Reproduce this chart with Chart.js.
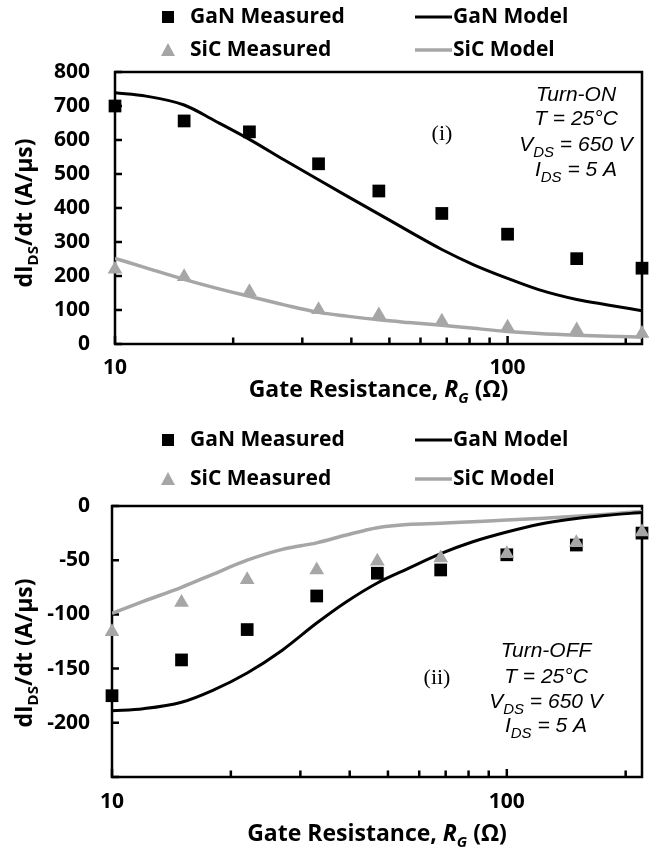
<!DOCTYPE html>
<html>
<head>
<meta charset="utf-8">
<script src="https://cdn.jsdelivr.net/npm/chart.js@4.4.1/dist/chart.umd.min.js"></script>
<style>
  html, body { margin: 0; padding: 0; background: #fff; }
  #wrap { position: relative; width: 651px; height: 852px; }
  canvas { position: absolute; left: 0; }
  #onChart { top: 0; }
  #offChart { top: 412px; }
</style>
</head>
<body>
<div id="wrap">
  <canvas id="onChart" width="651" height="412"></canvas>
  <canvas id="offChart" width="651" height="440"></canvas>
</div>
<script>
// gate resistances (ohm)
const R_MEAS = [10, 15, 22, 33, 47, 68, 100, 150, 220];
const R_MODEL = [10, 12, 15, 18, 22, 27, 33, 39, 47, 56, 68, 82, 100, 120, 150, 180, 220];

// (i) turn-on dI/dt (A/us)
const ON_GAN_MEAS = [700, 656, 624, 530, 450, 384, 323, 251, 223];
const ON_SIC_MEAS = [220, 198, 154, 101, 85, 67, 49, 41, 31];
const ON_GAN_MODEL = [739, 729, 703, 656, 602, 541, 483, 435, 382, 332, 278, 233, 193, 160, 131, 115, 98];
const ON_SIC_MODEL = [252, 224, 190, 165, 140, 115, 93, 82, 71, 63, 55, 46, 37, 31, 26, 23, 20];

// (ii) turn-off dI/dt (A/us)
const OFF_GAN_MEAS = [-175, -142, -114, -83, -62, -59, -45, -36, -25];
const OFF_SIC_MEAS = [-116, -89, -68, -59, -51, -48, -44, -34, -24];
const OFF_GAN_MODEL = [-189, -187, -181, -170, -154, -133, -108, -89, -71, -58, -44, -33, -24, -17, -11.5, -8.5, -6];
const OFF_SIC_MODEL = [-99, -88, -75, -63, -50, -40, -34, -27, -20, -17, -16, -14.5, -13, -11.5, -9.5, -7.5, -5];

// axes
const X_TICKS = [10, 20, 30, 40, 50, 60, 70, 80, 90, 100, 200];
const X_TICK_LABELS = [10, 100];
const ON_Y_TICKS = [0, 100, 200, 300, 400, 500, 600, 700, 800];
const OFF_Y_TICKS = [-250, -200, -150, -100, -50, 0];
const OFF_Y_TICK_LABELS = [0, -50, -100, -150, -200];

const GREY = '#a6a6a6';
const SANS = '"Open Sans", sans-serif';
const F_LEG = 'bold 21px ' + SANS;
const F_TITLE = 'bold 23px ' + SANS;
const F_TITLE_I = 'italic bold 23px ' + SANS;
const F_TITLE_SUB = 'bold 15px ' + SANS;
const F_TITLE_SUB_I = 'italic bold 15px ' + SANS;
const F_NOTE = 'italic 21px "Liberation Sans", Arial, sans-serif';
const F_NOTE_SUB = 'italic 15px "Liberation Sans", Arial, sans-serif';
const F_TAG = '22px "Liberation Serif", "Times New Roman", serif';

function pts(xs, ys) {
    return xs.map((x, i) => ({ x: x, y: ys[i] }));
}

// draws a run of [text, font, dy] pieces
function drawRich(ctx, segs, x, y, align) {
    let w = 0;
    segs.forEach(s => { ctx.font = s[1]; w += ctx.measureText(s[0]).width; });
    let cx = align === 'center' ? x - w / 2 : x;
    ctx.textAlign = 'left';
    ctx.textBaseline = 'alphabetic';
    segs.forEach(s => {
        ctx.font = s[1];
        ctx.fillText(s[0], cx, y + (s[2] || 0));
        cx += ctx.measureText(s[0]).width;
    });
}

function noteLines(kind) {
    return [
        [[kind, F_NOTE]],
        [['T = 25°C', F_NOTE]],
        [['V', F_NOTE], ['DS', F_NOTE_SUB, 6], [' = 650 V', F_NOTE]],
        [['I', F_NOTE], ['DS', F_NOTE_SUB, 6], [' = 5 A', F_NOTE]]
    ];
}

function makeDeco(cfg) {
    return {
        id: 'deco',
        beforeDatasetsDraw(chart) {
            const { ctx, chartArea: a, scales } = chart;
            ctx.save();
            ctx.strokeStyle = '#000';
            ctx.lineWidth = 2.5;
            ctx.beginPath();
            scales.x.ticks.forEach(t => {
                const px = scales.x.getPixelForValue(t.value);
                const len = X_TICK_LABELS.includes(t.value) ? 8 : 6.5;
                ctx.moveTo(px, a.bottom);
                ctx.lineTo(px, a.bottom - len);
            });
            scales.y.ticks.forEach(t => {
                const py = scales.y.getPixelForValue(t.value);
                ctx.moveTo(a.left, py);
                ctx.lineTo(a.left + 7, py);
            });
            ctx.stroke();
            ctx.strokeRect(a.left, a.top, a.right - a.left, a.bottom - a.top);
            ctx.restore();
        },
        afterDraw(chart) {
            const { ctx, chartArea: a } = chart;
            ctx.save();
            ctx.fillStyle = '#000';

            // legend, 2 x 2
            const r1 = cfg.legendY[0], r2 = cfg.legendY[1];
            ctx.fillStyle = '#000';
            ctx.fillRect(168 - 6, r1 - 6, 12, 12);
            ctx.fillStyle = GREY;
            ctx.beginPath();
            ctx.moveTo(168, r2 - 7);
            ctx.lineTo(175, r2 + 6);
            ctx.lineTo(161, r2 + 6);
            ctx.closePath();
            ctx.fill();
            ctx.lineWidth = 3;
            ctx.strokeStyle = '#000';
            ctx.beginPath(); ctx.moveTo(415, r1); ctx.lineTo(452, r1); ctx.stroke();
            ctx.strokeStyle = GREY;
            ctx.lineWidth = 3.5;
            ctx.beginPath(); ctx.moveTo(415, r2); ctx.lineTo(452, r2); ctx.stroke();
            ctx.fillStyle = '#000';
            ctx.font = F_LEG;
            ctx.textAlign = 'left';
            ctx.textBaseline = 'middle';
            ctx.fillText('GaN Measured', 190, r1);
            ctx.fillText('GaN Model', 453, r1);
            ctx.fillText('SiC Measured', 190, r2);
            ctx.fillText('SiC Model', 453, r2);

            // x title
            drawRich(ctx, [
                ['Gate Resistance, ', F_TITLE],
                ['R', F_TITLE_I],
                ['G', F_TITLE_SUB_I, 6],
                [' (Ω)', F_TITLE]
            ], (a.left + a.right) / 2, cfg.xTitleY, 'center');

            // y title
            ctx.save();
            ctx.translate(cfg.yTitleX, cfg.yTitleCY);
            ctx.rotate(-Math.PI / 2);
            drawRich(ctx, [
                ['dI', F_TITLE],
                ['DS', F_TITLE_SUB, 6],
                ['/dt (A/µs)', F_TITLE]
            ], 0, 0, 'center');
            ctx.restore();

            // condition notes
            noteLines(cfg.noteKind).forEach((segs, i) => {
                drawRich(ctx, segs, cfg.noteX, cfg.noteY[i], 'center');
            });

            // panel tag
            ctx.font = F_TAG;
            ctx.textAlign = 'center';
            ctx.textBaseline = 'alphabetic';
            ctx.fillText(cfg.tag, cfg.tagX, cfg.tagY);
            ctx.restore();
        }
    };
}

function makeChart(id, cfg) {
    const canvas = document.getElementById(id);
    const H = canvas.height;
    const datasets = [
        { label: 'SiC Measured', data: pts(R_MEAS, cfg.sicMeas), showLine: false,
          pointStyle: 'triangle', pointRadius: 8.5, backgroundColor: GREY, borderColor: GREY, borderWidth: 0, clip: false },
        { label: 'GaN Measured', data: pts(R_MEAS, cfg.ganMeas), showLine: false,
          pointStyle: 'rect', pointRadius: 9, backgroundColor: '#000', borderColor: '#000', borderWidth: 0, clip: false },
        { label: 'GaN Model', data: pts(R_MODEL, cfg.ganModel), borderColor: '#000', borderWidth: 3,
          pointRadius: 0, cubicInterpolationMode: 'monotone', fill: false },
        { label: 'SiC Model', data: pts(R_MODEL, cfg.sicModel), borderColor: GREY, borderWidth: 3.5,
          pointRadius: 0, cubicInterpolationMode: 'monotone', fill: false }
    ];

    return new Chart(canvas, {
        type: 'line',
        data: { datasets: datasets },
        options: {
            responsive: false, animation: false, devicePixelRatio: 1,
            layout: { padding: { left: 0, right: canvas.width - cfg.area.right, top: cfg.area.top, bottom: 0 } },
            plugins: { legend: { display: false }, tooltip: { enabled: false } },
            scales: {
                x: {
                    type: 'logarithmic', min: 10, max: 220,
                    grid: { display: false, drawTicks: false },
                    border: { display: false },
                    afterBuildTicks: s => { s.ticks = X_TICKS.map(v => ({ value: v })); },
                    afterFit: s => { s.height = H - cfg.area.bottom; },
                    ticks: {
                        autoSkip: false, maxRotation: 0, padding: cfg.xTickPad, color: '#000',
                        font: { family: SANS, size: 21, weight: 'bold' },
                        callback: v => X_TICK_LABELS.includes(v) ? String(v) : ''
                    }
                },
                y: {
                    type: 'linear', min: cfg.yTicks[0], max: cfg.yTicks[cfg.yTicks.length - 1],
                    grid: { display: false, drawTicks: false },
                    border: { display: false },
                    afterBuildTicks: s => { s.ticks = cfg.yTicks.map(v => ({ value: v })); },
                    afterFit: s => { s.width = cfg.area.left; },
                    ticks: {
                        padding: cfg.yTickPad, color: '#000',
                        font: { family: SANS, size: 21, weight: 'bold' },
                        callback: v => cfg.yLabels.includes(v) ? String(v) : ''
                    }
                }
            }
        },
        plugins: [makeDeco(cfg)]
    });
}

makeChart('onChart', {
    ganMeas: ON_GAN_MEAS, sicMeas: ON_SIC_MEAS, ganModel: ON_GAN_MODEL, sicModel: ON_SIC_MODEL,
    yTicks: ON_Y_TICKS, yLabels: ON_Y_TICKS,
    area: { left: 115, right: 643, top: 72, bottom: 344 },
    xTickPad: 11, yTickPad: 25,
    legendY: [17, 50],
    xTitleY: 397, yTitleX: 32, yTitleCY: 213,
    noteKind: 'Turn-ON', noteX: 576, noteY: [101, 125, 151, 176],
    tag: '(i)', tagX: 442, tagY: 140
});

makeChart('offChart', {
    ganMeas: OFF_GAN_MEAS, sicMeas: OFF_SIC_MEAS, ganModel: OFF_GAN_MODEL, sicModel: OFF_SIC_MODEL,
    yTicks: OFF_Y_TICKS, yLabels: OFF_Y_TICK_LABELS,
    area: { left: 112, right: 649, top: 94, bottom: 365 },
    xTickPad: 12, yTickPad: 22,
    legendY: [28, 67],
    xTitleY: 429, yTitleX: 32, yTitleCY: 241,
    noteKind: 'Turn-OFF', noteX: 546, noteY: [245, 271, 296, 320],
    tag: '(ii)', tagX: 437, tagY: 272
});
</script>
</body>
</html>
